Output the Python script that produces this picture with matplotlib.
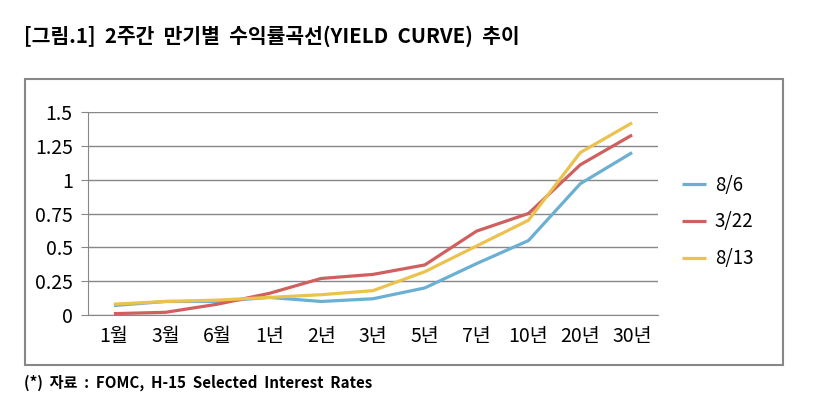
import matplotlib
matplotlib.use('Agg')
import matplotlib.pyplot as plt
from matplotlib.patches import Rectangle

plt.rcParams['font.family'] = ['Noto Sans CJK KR', 'DejaVu Sans']

# data
maturities = ['1월', '3월', '6월', '1년', '2년', '3년', '5년', '7년', '10년', '20년', '30년']
series_names = ['8/6', '3/22', '8/13']
yield_0806 = [0.07, 0.10, 0.10, 0.13, 0.10, 0.12, 0.20, 0.38, 0.55, 0.97, 1.20]
yield_0322 = [0.01, 0.02, 0.08, 0.16, 0.27, 0.30, 0.37, 0.62, 0.75, 1.11, 1.33]
yield_0813 = [0.08, 0.10, 0.11, 0.13, 0.15, 0.18, 0.32, 0.51, 0.70, 1.20, 1.42]
yticks = [0, 0.25, 0.5, 0.75, 1, 1.25, 1.5]
ytick_labels = ['0', '0.25', '0.5', '0.75', '1', '1.25', '1.5']

colors = ['#6BAFD3', '#D0605F', '#EBC24E']
W, H = 826, 409

fig = plt.figure(figsize=(W / 100, H / 100), dpi=100)

# outer chart frame
fig.patches.append(Rectangle((24.5 / W, 1 - 365 / H), (783 - 24.5) / W, (365 - 78.5) / H,
                             transform=fig.transFigure, fill=False,
                             edgecolor='#878787', linewidth=1.5))

ax = fig.add_axes([88 / W, 1 - 315 / H, (658 - 88) / W, (315 - 112) / H])
x = list(range(len(maturities)))
for vals, name, c in zip([yield_0806, yield_0322, yield_0813], series_names, colors):
    ax.plot(x, vals, color=c, linewidth=2.3, label=name, solid_capstyle='butt')

ax.set_xlim(-0.5, len(maturities) - 0.5)
ax.set_ylim(0, 1.5)
ax.set_yticks(yticks)
ax.set_yticklabels(ytick_labels)
ax.set_xticks(x)
ax.set_xticklabels(maturities)
ax.yaxis.grid(True, color='#878787', linewidth=1)
ax.set_axisbelow(True)
for s in ['top', 'right']:
    ax.spines[s].set_visible(False)
ax.spines['left'].set_color('#878787')
ax.spines['bottom'].set_color('#878787')
ax.tick_params(axis='y', length=5, color='#878787', labelsize=14, pad=6)
ax.tick_params(axis='x', length=0, labelsize=14, pad=8)

handles, labels = ax.get_legend_handles_labels()
fig.legend(handles, labels, loc='center left', bbox_to_anchor=(665 / W, 1 - 222 / H),
           frameon=False, fontsize=13.5, handlelength=1.3, labelspacing=0.85,
           handletextpad=0.45)

fig.text(24 / W, 1 - 36 / H, '[그림.1]  2주간  만기별  수익률곡선(YIELD  CURVE)  추이',
         fontsize=14.7, fontweight='bold', va='center', ha='left')
fig.text(24 / W, 1 - 383 / H, '(*)  자료  :  FOMC,  H-15  Selected  Interest  Rates',
         fontsize=10.9, fontweight='bold', va='center', ha='left')

fig.savefig('out.png', dpi=100)
